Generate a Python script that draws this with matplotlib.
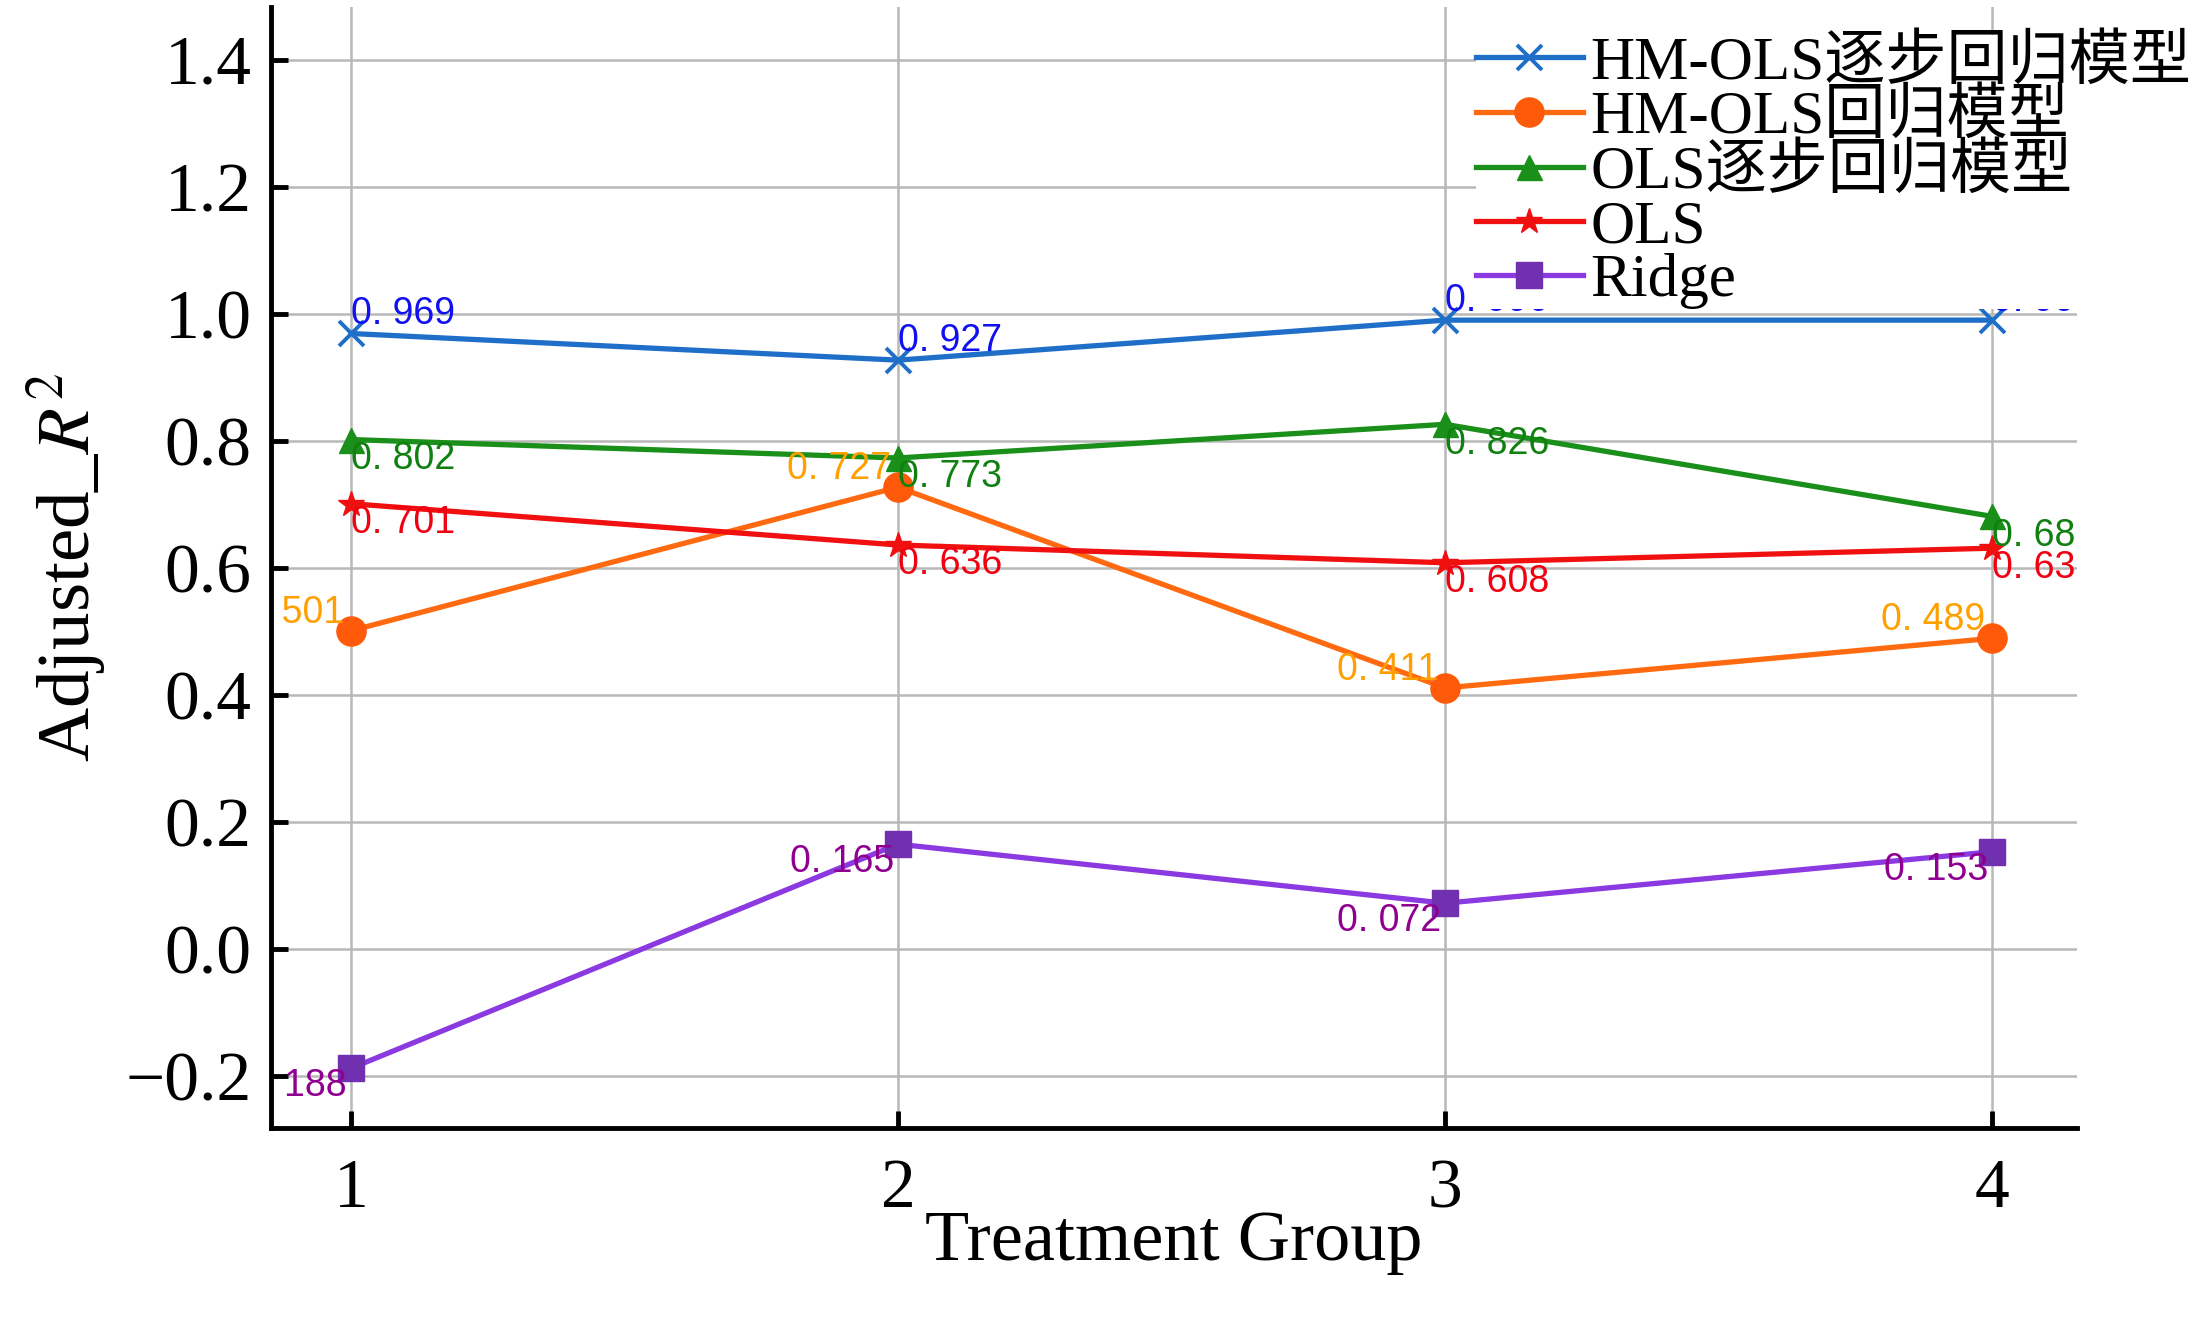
import matplotlib
matplotlib.use('Agg')
import matplotlib.pyplot as plt
from matplotlib.ticker import FuncFormatter

plt.rcParams['mathtext.fontset'] = 'stix'

# data
groups = [1, 2, 3, 4]
series_names = ['HM-OLS逐步回归模型', 'HM-OLS回归模型', 'OLS逐步回归模型', 'OLS', 'Ridge']
hm_ols_step = [0.969, 0.927, 0.990, 0.990]
hm_ols = [0.501, 0.727, 0.411, 0.489]
ols_step = [0.802, 0.773, 0.826, 0.681]
ols = [0.701, 0.636, 0.608, 0.631]
ridge = [-0.188, 0.165, 0.072, 0.153]
y_ticks = [-0.2, 0.0, 0.2, 0.4, 0.6, 0.8, 1.0, 1.2, 1.4]

series = [hm_ols_step, hm_ols, ols_step, ols, ridge]
line_colors = ['#1f6fc8', '#ff6a10', '#1a8f1a', '#f01010', '#8a3ae0']
marker_colors = ['#1f6fc8', '#ff5a0a', '#1a8f1a', '#f01010', '#7030b0']
label_colors = ['#1010f0', '#ffa000', '#108010', '#f00010', '#900090']
markers = ['x', 'o', '^', '*', 's']
marker_sizes = [18, 21, 18, 19, 19]
# label placement per series: (ha, va, dx, dy) in points
label_pos = [('left', 'bottom', 0, 1), ('right', 'bottom', -5, 0),
             ('left', 'top', 0, -1), ('left', 'top', 0, -1),
             ('right', 'top', -3, 0)]

serif = ['Liberation Serif', 'Noto Sans CJK SC']
label_font = ['Liberation Sans']

fig = plt.figure(figsize=(22.03, 13.22), dpi=100)
ax = fig.add_axes([0.1230, 0.1467, 0.8198, 0.8480])

for i, vals in enumerate(series):
    ax.plot(groups, vals, color=line_colors[i], lw=3.8, marker=markers[i],
            markersize=marker_sizes[i], markerfacecolor=marker_colors[i],
            markeredgecolor=marker_colors[i], markeredgewidth=2.8 if markers[i] == 'x' else 1,
            label=series_names[i], zorder=3)
    ha, va, dx, dy = label_pos[i]
    for x, v in zip(groups, vals):
        txt = ('%.3f' % v).replace('.', '. ')
        ax.annotate(txt, (x, v), xytext=(dx, dy), textcoords='offset points',
                    ha=ha, va=va, color=label_colors[i], fontsize=27,
                    family=label_font, clip_on=True, zorder=4)

ax.set_xlim(0.854, 4.155)
ax.set_ylim(-0.282, 1.483)
ax.set_xticks(groups)
ax.set_yticks(y_ticks)
ax.yaxis.set_major_formatter(FuncFormatter(lambda v, p: ('%.1f' % v).replace('-', '\u2212')))
ax.grid(True, color='#b8b8b8', lw=1.8, zorder=0)
ax.set_axisbelow(True)

for s in ['top', 'right']:
    ax.spines[s].set_visible(False)
for s in ['left', 'bottom']:
    ax.spines[s].set_linewidth(3.5)

ax.tick_params(direction='in', length=12, width=3.5, labelsize=50, pad=14)
ax.tick_params(axis='x', pad=22)
for lab in ax.get_xticklabels() + ax.get_yticklabels():
    lab.set_family(serif)

ax.set_xlabel('Treatment Group', fontsize=52, family=serif, labelpad=-9)
ax.set_ylabel('Adjusted_$R^2$', fontsize=54, family=serif, labelpad=12)

leg = ax.legend(loc='upper left', bbox_to_anchor=(1476 / 2203, 1 - 35 / 1322),
                bbox_transform=fig.transFigure, prop={'family': serif, 'size': 44},
                frameon=True, facecolor='white', edgecolor='none', framealpha=1,
                fancybox=False, borderpad=0.0, borderaxespad=0, labelspacing=-0.03,
                handlelength=1.75, handletextpad=0.12)
leg.set_zorder(10)

fig.savefig('out.png', dpi=100)
